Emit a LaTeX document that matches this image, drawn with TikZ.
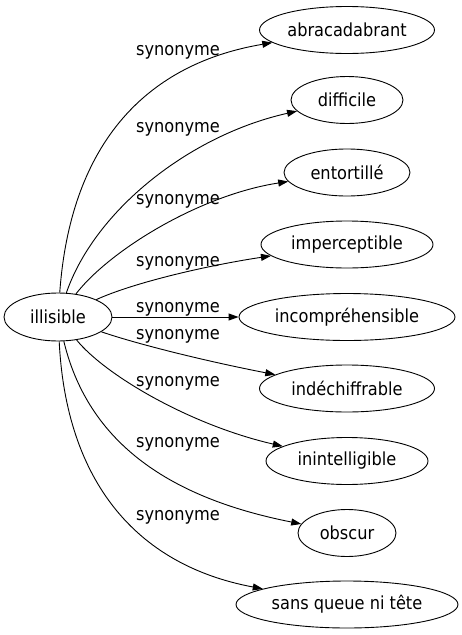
\documentclass[tikz,border=0pt]{standalone}
\usepackage{fontspec}
\setmainfont{DejaVu Sans Condensed}
\usetikzlibrary{shapes.geometric,arrows.meta}
\begin{document}
\begin{tikzpicture}[x=1pt,y=-1pt,
  font=\fontsize{18}{22}\selectfont,
  wnode/.style={draw,ellipse,line width=0.9pt,inner sep=0pt,minimum height=47pt},
  lbl/.style={anchor=base,inner sep=0pt},
  rel/.style={line width=0.9pt,-{Triangle[length=10pt,width=7pt]}}]
\useasboundingbox (0,0) rectangle (462,635);
\node[wnode,minimum width=108pt,minimum height=48pt] (ill) at (58,317) {illisible};
\node[wnode,minimum width=175pt] (abr) at (347,30) {abracadabrant};
\node[wnode,minimum width=112pt] (dif) at (347,100) {difficile};
\node[wnode,minimum width=126pt] (ent) at (347,172.5) {entortillé};
\node[wnode,minimum width=172pt] (imp) at (347,244.5) {imperceptible};
\node[wnode,minimum width=216pt] (inc) at (347,317) {incompréhensible};
\node[wnode,minimum width=175pt] (ind) at (347,388.5) {indéchiffrable};
\node[wnode,minimum width=162pt] (ini) at (347,461) {inintelligible};
\node[wnode,minimum width=98pt] (obs) at (347,533) {obscur};
\node[wnode,minimum width=222pt] (sqt) at (347,604.5) {sans queue ni tête};

\draw[rel] (ill) .. controls (70,150) and (140,65) .. (abr);
\draw[rel] (ill) .. controls (95,210) and (190,135) .. (dif);
\draw[rel] (ill) .. controls (110,250) and (200,195) .. (ent);
\draw[rel] (ill) .. controls (135,282) and (210,265) .. (imp);
\draw[rel] (ill) -- (inc);
\draw[rel] (ill) .. controls (140,345) and (210,362) .. (ind);
\draw[rel] (ill) .. controls (105,375) and (190,425) .. (ini);
\draw[rel] (ill) .. controls (90,450) and (180,500) .. (obs);
\draw[rel] (ill) .. controls (66,480) and (135,565) .. (sqt);

\node[lbl] (l1) at (178,55) {synonyme};
\node[lbl] (l2) at (178,132.5) {synonyme};
\node[lbl] (l3) at (178,204.5) {synonyme};
\node[lbl] (l4) at (178,266) {synonyme};
\node[lbl] (l5) at (178,312) {synonyme};
\node[lbl] (l6) at (178,339.5) {synonyme};
\node[lbl] (l7) at (178,386.5) {synonyme};
\node[lbl] (l8) at (178,447.5) {synonyme};
\node[lbl] (l9) at (178,520.5) {synonyme};
\end{tikzpicture}
\end{document}
